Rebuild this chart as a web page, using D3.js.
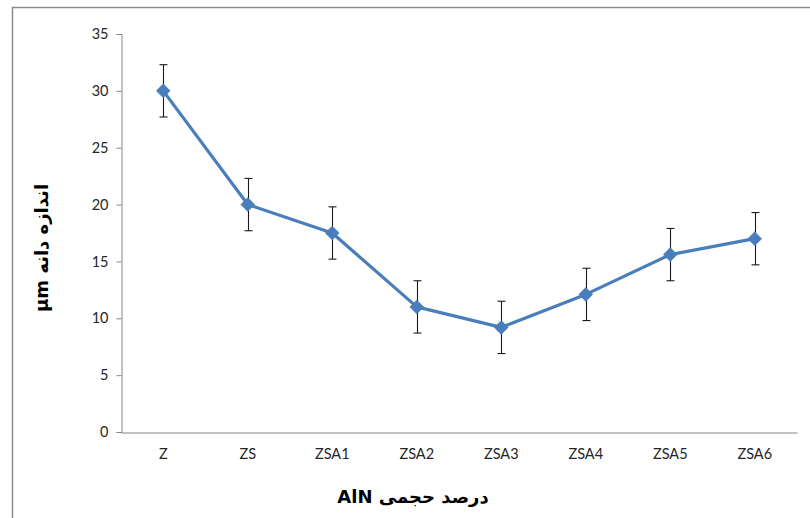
<!DOCTYPE html>
<html><head><meta charset="utf-8">
<script src="https://cdn.jsdelivr.net/npm/d3@7"></script>
<style>body{margin:0;background:#fff;} svg{display:block;}</style>
</head><body>
<svg id="chart" width="810" height="518"></svg>
<script>
const categories = ["Z","ZS","ZSA1","ZSA2","ZSA3","ZSA4","ZSA5","ZSA6"];
const values = [30, 20, 17.5, 11, 9.2, 12.1, 15.6, 17];
const errors = [2.3, 2.3, 2.3, 2.3, 2.3, 2.3, 2.3, 2.3];
const yTicks = [0,5,10,15,20,25,30,35];
const yLabel = "اندازه دانه µm";
const xLabel = "درصد حجمی AlN";

const svg = d3.select("#chart");
svg.append("rect").attr("x",12.5).attr("y",7.5).attr("width",820).attr("height",530)
  .attr("fill","#fff").attr("stroke","#8c8c8c").attr("stroke-width",1.5);

const x = d3.scaleBand().domain(categories).range([121,797]).padding(0);
const y = d3.scaleLinear().domain([0,35]).range([432,34]);
const font = "Lato, 'Open Sans', sans-serif";

// y axis
const ya = svg.append("g").attr("transform","translate(121.5,0)")
  .call(d3.axisLeft(y).tickValues(yTicks).tickSize(5).tickPadding(8));
ya.select(".domain").attr("stroke","#868686");
ya.selectAll(".tick line").attr("stroke","#868686");
ya.selectAll(".tick text").attr("font-family",font).attr("font-size",14.5).attr("fill","#262626");

// x axis
const xa = svg.append("g").attr("transform","translate(0,432.5)")
  .call(d3.axisBottom(x).tickSize(0).tickPadding(16).tickSizeOuter(0));
xa.select(".domain").attr("stroke","#868686");
xa.selectAll(".tick text").attr("font-family",font).attr("font-size",14.5).attr("fill","#262626");

const cx = d => x(d) + x.bandwidth()/2;
const data = categories.map((c,i)=>({c, v: values[i], e: errors[i]}));

// line
svg.append("path").datum(data)
  .attr("d", d3.line().x(d=>cx(d.c)).y(d=>y(d.v)))
  .attr("fill","none").attr("stroke","#4a7ebb").attr("stroke-width",3.2).attr("stroke-linejoin","round");

// error bars
const eb = svg.append("g").attr("stroke","#1a1a1a").attr("stroke-width",1.1);
data.forEach(d=>{
  const X = Math.round(cx(d.c))+0.5;
  eb.append("line").attr("x1",X).attr("x2",X).attr("y1",y(d.v+d.e)).attr("y2",y(d.v-d.e));
  eb.append("line").attr("x1",X-4).attr("x2",X+4).attr("y1",y(d.v+d.e)).attr("y2",y(d.v+d.e));
  eb.append("line").attr("x1",X-4).attr("x2",X+4).attr("y1",y(d.v-d.e)).attr("y2",y(d.v-d.e));
});

// markers
svg.append("g").selectAll("path").data(data).join("path")
  .attr("d", d3.symbol().type(d3.symbolDiamond2).size(125))
  .attr("transform", d=>`translate(${cx(d.c)},${y(d.v)})`)
  .attr("fill","#4a7ebb").attr("stroke","#4a7ebb").attr("stroke-width",0.5);

// axis titles
svg.append("text").attr("transform","translate(48,248) rotate(-90)")
  .attr("text-anchor","middle").attr("direction","rtl")
  .attr("font-family","'DejaVu Sans', sans-serif").attr("font-weight","bold").attr("font-size",18)
  .attr("fill","#000").text(yLabel);
svg.append("text").attr("x",413).attr("y",503)
  .attr("text-anchor","middle").attr("direction","rtl")
  .attr("font-family","'DejaVu Sans', sans-serif").attr("font-weight","bold").attr("font-size",18)
  .attr("fill","#000").text(xLabel);
</script>
</body></html>
